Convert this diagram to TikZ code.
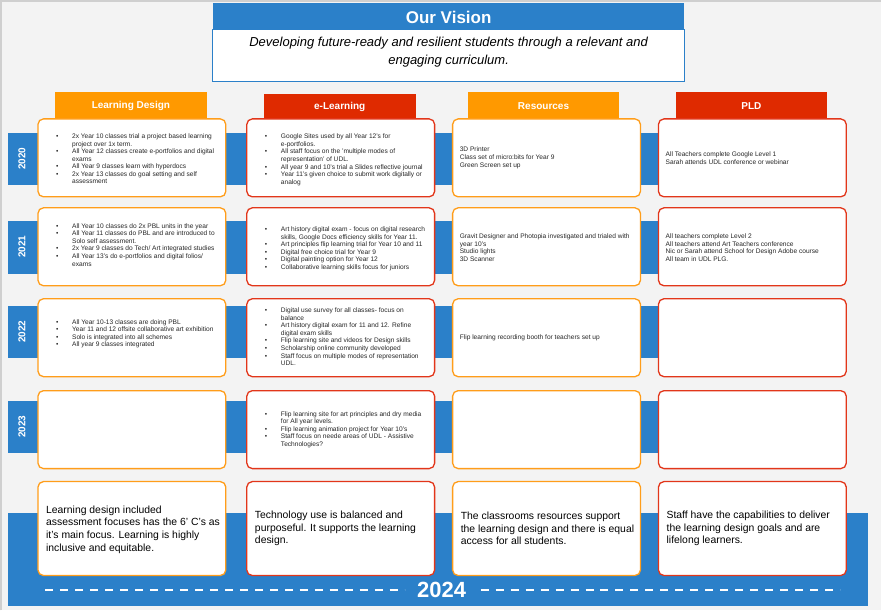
\documentclass[tikz,border=0pt]{standalone}
\usepackage{fontspec}
\setmainfont{Liberation Sans}
\usetikzlibrary{calc}
\definecolor{slidegray}{HTML}{F3F3F3}
\definecolor{framegray}{HTML}{CFCFCF}
\definecolor{visionblue}{HTML}{2B80C9}
\definecolor{hdorange}{HTML}{FF9900}
\definecolor{hdred}{HTML}{DF2A00}
\definecolor{boxorange}{HTML}{FF9D1A}
\definecolor{boxred}{HTML}{E2361A}
\definecolor{textgray}{HTML}{262626}
\def\bu{\makebox[16pt][l]{\textbullet}}
\def\co{\hspace*{16pt}}
\def\cellbox[#1](#2,#3){\draw[#1] (#2,#3) rectangle ++(188,78);}
\def\stripe(#1:#2){\fill[visionblue] (8,#1) rectangle (659,#2);}
\tikzset{
  cell/.style={fill=white, rounded corners=5.5pt, line width=1.3pt},
  ldcell/.style={cell, draw=boxorange},
  elcell/.style={cell, draw=boxred},
  listtext/.style={anchor=west, inner sep=0pt, align=left, text=textgray, font=\fontsize{6.6}{7.6}\selectfont},
  goaltext/.style={anchor=west, inner sep=0pt, align=left, text=black, font=\fontsize{10.4}{12.6}\selectfont},
  headtext/.style={text=white, inner sep=0pt, font=\fontsize{10}{12}\selectfont\bfseries},
  yeartext/.style={headtext, rotate=90}
}
\begin{document}
\begin{tikzpicture}[x=1pt,y=-1pt]
  %%%%% BACKGROUND %%%%%
  \fill[slidegray] (0,0) rectangle (882,611);
  \draw[framegray, line width=1.5pt] (1,611) -- (1,1) -- (882,1);

  %%%%% VISION %%%%%
  \fill[visionblue] (213,3) rectangle (685,30);
  \draw[visionblue, fill=white, line width=1pt] (213,30) rectangle (685,82);
  \node[text=white, inner sep=0pt, font=\fontsize{17}{20}\selectfont\bfseries] (vision) at (449,17) {Our Vision};
  \node[align=center, inner sep=0pt, font=\fontsize{13}{18}\selectfont\itshape] (visiontext) at (449,52)
    {Developing future-ready and resilient students through a relevant and\\ engaging curriculum.};

  %%%%% YEAR STRIPES %%%%%
  \stripe(133:185)
  \stripe(221:274)
  \stripe(306:358)
  \stripe(401:453)
  \node[yeartext] (y2020) at (22,159) {2020};
  \node[yeartext] (y2021) at (22,247) {2021};
  \node[yeartext] (y2022) at (22,332) {2022};
  \node[yeartext] (y2023) at (22,427) {2023};

  %%%%% 2024 BAND %%%%%
  \fill[visionblue] (8,513) rectangle (869,607);
  \draw[white, line width=2pt, dash pattern=on 8pt off 7pt] (45,590) -- (405,590);
  \draw[white, line width=2pt, dash pattern=on 8pt off 7pt] (481,590) -- (841,590);
  \node[text=white, inner sep=0pt, font=\fontsize{22}{24}\selectfont\bfseries] (y2024) at (442,590) {2024};

  %%%%% HEADERS %%%%%
  \fill[hdorange] (55,92) rectangle (207,118);
  \fill[hdred] (264,94) rectangle (416,118);
  \fill[hdorange] (468,92) rectangle (620,118);
  \fill[hdred] (677,92) rectangle (828,118);
  \node[headtext] (hdld) at (131,106) {Learning Design};
  \node[headtext] (hdel) at (340,107) {e-Learning};
  \node[headtext] (hdrs) at (544,106) {Resources};
  \node[headtext] (hdpl) at (752,106) {PLD};

  %%%%% CELLS %%%%%
  \cellbox[ldcell](38,119)
  \cellbox[ldcell](38,208)
  \cellbox[ldcell](38,299)
  \cellbox[ldcell](38,391)
  \cellbox[elcell](247,119)
  \cellbox[elcell](247,208)
  \cellbox[elcell](247,299)
  \cellbox[elcell](247,391)
  \cellbox[ldcell](453,119)
  \cellbox[ldcell](453,208)
  \cellbox[ldcell](453,299)
  \cellbox[ldcell](453,391)
  \cellbox[elcell](659,119)
  \cellbox[elcell](659,208)
  \cellbox[elcell](659,299)
  \cellbox[elcell](659,391)
  \draw[ldcell] (38,482) rectangle (226,576);
  \draw[elcell] (247,482) rectangle (435,576);
  \draw[ldcell] (453,482) rectangle (641,576);
  \draw[elcell] (659,482) rectangle (847,576);

  %%%%% LEARNING DESIGN %%%%%
  \node[listtext] (ld20) at (56,159) {\bu 2x Year 10 classes trial a project based learning\\ \co project over 1x term.\\ \bu All Year 12 classes create e-portfolios and digital\\ \co exams\\ \bu All Year 9 classes learn with hyperdocs\\ \bu 2x Year 13 classes do goal setting and self\\ \co assessment};
  \node[listtext] (ld21) at (56,245) {\bu All Year 10 classes do 2x PBL units in the year\\ \bu All Year 11 classes do PBL and are introduced to\\ \co Solo self assessment.\\ \bu 2x Year 9 classes do Tech/ Art integrated studies\\ \bu All Year 13's do e-portfolios and digital folios/\\ \co exams};
  \node[listtext] (ld22) at (56,334) {\bu All Year 10-13 classes are doing PBL\\ \bu Year 11 and 12 offsite collaborative art exhibition\\ \bu Solo is integrated into all schemes\\ \bu All year 9 classes integrated};

  %%%%% E-LEARNING %%%%%
  \node[listtext] (el20) at (265,160) {\bu Google Sites used by all Year 12's for\\ \co e-portfolios.\\ \bu All staff focus on the 'multiple modes of\\ \co representation' of UDL.\\ \bu All year 9 and 10's trial a Slides reflective journal\\ \bu Year 11's given choice to submit work digitally or\\ \co analog};
  \node[listtext] (el21) at (265,249) {\bu Art history digital exam - focus on digital research\\ \co skills, Google Docs efficiency skills for Year 11.\\ \bu Art principles flip learning trial for Year 10 and 11\\ \bu Digital free choice trial for Year 9\\ \bu Digital painting option for Year 12\\ \bu Collaborative learning skills focus for juniors};
  \node[listtext] (el22) at (265,337) {\bu Digital use survey for all classes- focus on\\ \co balance\\ \bu Art history digital exam for 11 and 12. Refine\\ \co digital exam skills\\ \bu Flip learning site and videos for Design skills\\ \bu Scholarship online community developed\\ \bu Staff focus on multiple modes of representation\\ \co UDL.};
  \node[listtext] (el23) at (265,430) {\bu Flip learning site for art principles and dry media\\ \co for All year levels.\\ \bu Flip learning animation project for Year 10's\\ \bu Staff focus on neede areas of UDL - Assistive\\ \co Technologies?};

  %%%%% RESOURCES %%%%%
  \node[listtext] (rs20) at (460,158) {3D Printer\\ Class set of micro:bits for Year 9\\ Green Screen set up};
  \node[listtext] (rs21) at (460,248) {Gravit Designer and Photopia investigated and trialed with\\ year 10's\\ Studio lights\\ 3D Scanner};
  \node[listtext] (rs22) at (460,338) {Flip learning recording booth for teachers set up};

  %%%%% PLD %%%%%
  \node[listtext] (pl20) at (666,158) {All Teachers complete Google Level 1\\ Sarah attends UDL conference or webinar};
  \node[listtext] (pl21) at (666,248) {All teachers complete Level 2\\ All teachers attend Art Teachers conference\\ Nic or Sarah attend School for Design Adobe course\\ All team in UDL PLG.};

  %%%%% 2024 GOALS %%%%%
  \node[goaltext] (ld24) at (46,530) {Learning design included\\ assessment focuses has the 6' C's as\\ it's main focus. Learning is highly\\ inclusive and equitable.};
  \node[goaltext] (el24) at (255,529) {Technology use is balanced and\\ purposeful. It supports the learning\\ design.};
  \node[goaltext] (rs24) at (461,529) {The classrooms resources support\\ the learning design and there is equal\\ access for all students.};
  \node[goaltext] (pl24) at (667,529) {Staff have the capabilities to deliver\\ the learning design goals and are\\ lifelong learners.};
\end{tikzpicture}
\end{document}
